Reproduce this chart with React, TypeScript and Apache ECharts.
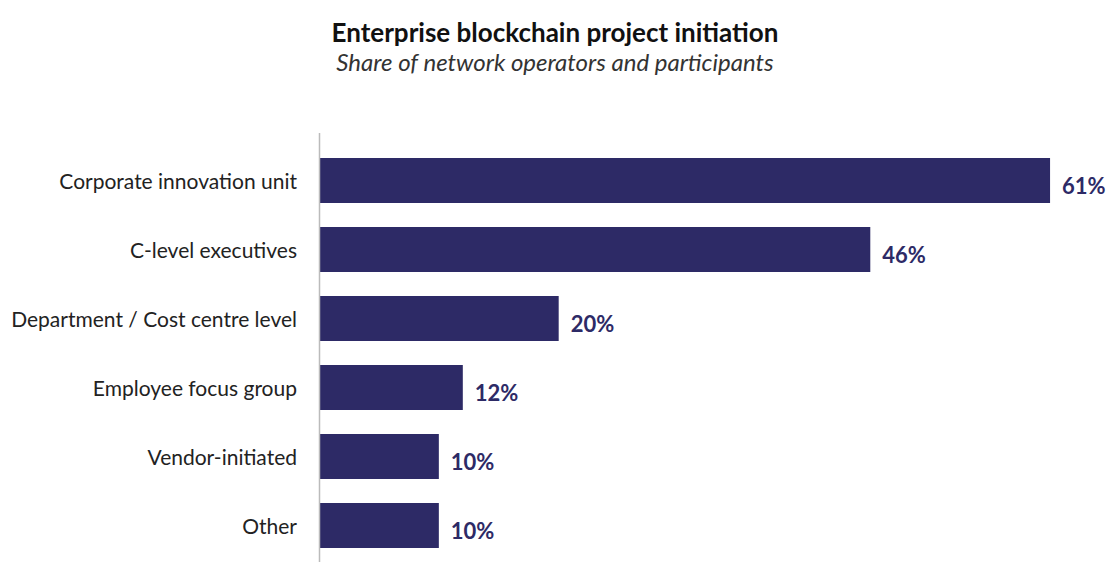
import React, { useEffect, useRef } from "react";
import * as echarts from "echarts";

const categories = [
  "Corporate innovation unit",
  "C-level executives",
  "Department / Cost centre level",
  "Employee focus group",
  "Vendor-initiated",
  "Other",
];
const values = [61, 46, 20, 12, 10, 10];
const titleText = "Enterprise blockchain project initiation";
const subtitleText = "Share of network operators and participants";

export default function App() {
  const ref = useRef<HTMLDivElement>(null);
  useEffect(() => {
    document.body.style.margin = "0";
    const chart = echarts.init(ref.current!, null, { renderer: "svg" });
    chart.setOption({
      animation: false,
      backgroundColor: "#ffffff",
      title: {
        text: titleText,
        subtext: subtitleText,
        left: "center",
        top: 14,
        itemGap: 4,
        textStyle: { fontFamily: "Lato", fontWeight: "bold", fontSize: 26, color: "#111" },
        subtextStyle: { fontFamily: "Lato", fontStyle: "italic", fontSize: 24, color: "#333" },
      },
      grid: { left: 319, width: 779, top: 146, bottom: 2 },
      xAxis: {
        type: "value",
        min: 0,
        max: 65,
        show: false,
      },
      yAxis: {
        type: "category",
        data: categories,
        inverse: true,
        axisLine: { show: false },
        axisTick: { show: false },
        axisLabel: { margin: 22, fontFamily: "Lato", fontSize: 21, color: "#222" },
      },
      graphic: [
        {
          type: "line",
          shape: { x1: 319.5, y1: 133, x2: 319.5, y2: 562 },
          style: { stroke: "#bbbbbb", lineWidth: 1.5 },
          z: 10,
        },
      ],
      series: [
        {
          type: "bar",
          data: values,
          barWidth: "65%",
          itemStyle: { color: "#2d2a66" },
          label: {
            show: true,
            position: "right",
            distance: 12,
            formatter: "{c}%",
            fontFamily: "Lato",
            fontWeight: "bold",
            fontSize: 22,
            color: "#2d2a66",
            offset: [0, 5],
          },
        },
      ],
    });
    return () => chart.dispose();
  }, []);
  return <div ref={ref} style={{ width: 1110, height: 562 }} />;
}
